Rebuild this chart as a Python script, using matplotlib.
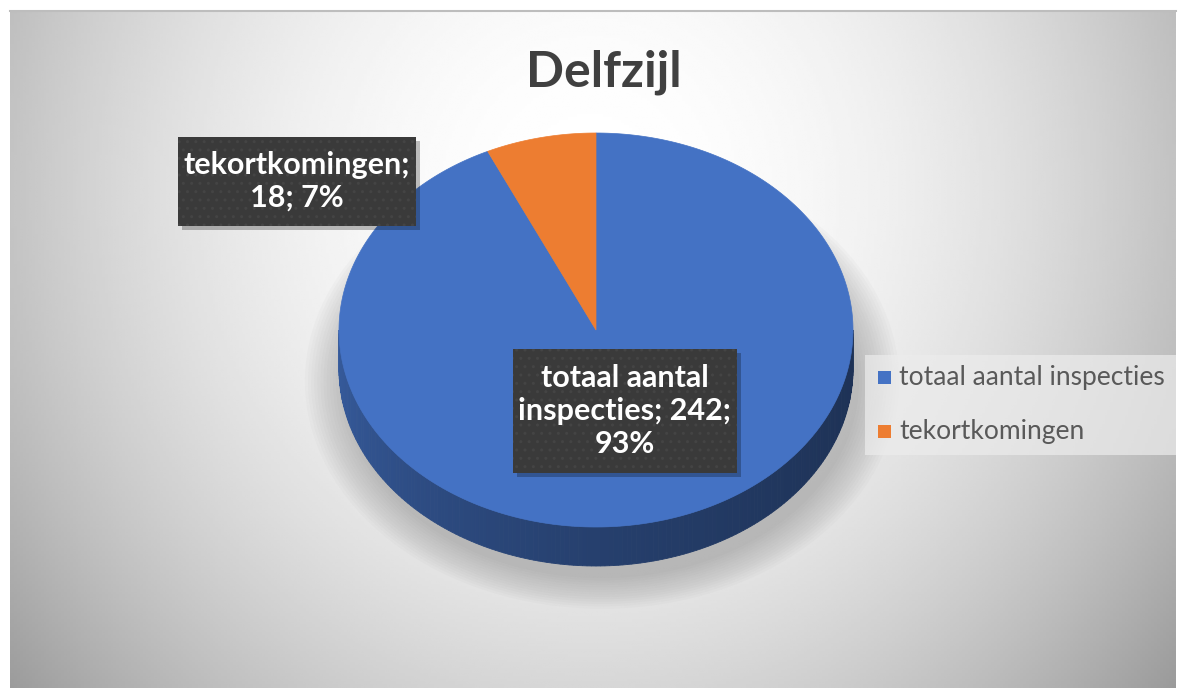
import numpy as np
import matplotlib
matplotlib.use("Agg")
import matplotlib.pyplot as plt
from matplotlib.patches import Polygon, Rectangle, Ellipse
import matplotlib.colors as mcolors

# ---- data ----
title = "Delfzijl"
categories = ["totaal aantal inspecties", "tekortkomingen"]
values = [242, 18]
colors = ["#4472C4", "#ED7D31"]

W, H = 1181, 691
fig = plt.figure(figsize=(W / 100, H / 100), dpi=100)
ax = fig.add_axes([0, 0, 1, 1])
ax.set_xlim(0, W)
ax.set_ylim(H, 0)
ax.axis("off")
fig.patch.set_facecolor("white")

# ---- background panel with soft radial gradient ----
px0, px1, py0, py1 = 10, 1176, 10, 688
xs = np.linspace(px0, px1, 400)
ys = np.linspace(py0, py1, 250)
X, Y = np.meshgrid(xs, ys)
v = 1 - 0.24 * ((X - 590) / 590) ** 2 - 0.16 * ((Y - 190) / 500) ** 2
v = np.clip(v, 0, 1)
ax.imshow(v, extent=(px0, px1, py1, py0), cmap="gray", vmin=0, vmax=1,
          zorder=0, interpolation="bilinear", aspect="auto")
ax.plot([px0, px1], [py0 + 0.5, py0 + 0.5], color="#bdbdbd", lw=1.5, zorder=1)

# ---- pie geometry ----
cx, cy, a, b, depth = 596, 330, 257, 197, 39

def pt(phi_deg, dy=0.0, scale=1.0):
    p = np.radians(phi_deg)
    return cx + scale * a * np.cos(p), cy + dy - scale * b * np.sin(p)

# shadow
for i in range(14):
    s = 1.0 + 0.012 * i
    e = Ellipse((cx + 6, cy + depth + 12), 2 * a * s, 2 * b * s,
                facecolor="#7a7a7a", edgecolor="none", alpha=0.035, zorder=2)
    ax.add_patch(e)

# slice angles (clockwise from top)
total = float(sum(values))
starts, ends = [], []
ang = 90.0
for val in values:
    span = 360.0 * val / total
    starts.append(ang - span)
    ends.append(ang)
    ang -= span

def shade(col, phi):
    rgb = np.array(mcolors.to_rgb(col))
    t = (np.cos(np.radians(phi)) + 1) / 2  # 0 at left, 1 at right
    f = 0.80 - 0.36 * t
    s = np.sin(np.radians(phi))
    f -= 0.12 * max(0.0, -s) * (1 - t)
    return np.clip(rgb * f, 0, 1)

# side walls (front half visible)
for col, s0, s1 in zip(colors, starts, ends):
    for k in range(-1, 2):
        lo, hi = s0 + 360 * k, s1 + 360 * k
        lo2, hi2 = max(lo, 180), min(hi, 360)
        if hi2 <= lo2:
            continue
        phis = np.linspace(lo2, hi2, max(2, int(hi2 - lo2) + 1))
        for p0, p1 in zip(phis[:-1], phis[1:]):
            x0, y0 = pt(p0)
            x1, y1 = pt(p1)
            c = shade(col, (p0 + p1) / 2)
            poly = Polygon([(x0, y0), (x1, y1), (x1, y1 + depth), (x0, y0 + depth)],
                           closed=True, facecolor=c, edgecolor=c, lw=0.6, zorder=3)
            ax.add_patch(poly)

# top faces
for col, s0, s1 in zip(colors, starts, ends):
    phis = np.linspace(s0, s1, 400)
    pts = [(cx, cy)] + [pt(p) for p in phis]
    ax.add_patch(Polygon(pts, closed=True, facecolor=col, edgecolor=col,
                         lw=0.5, zorder=4))

# ---- data labels ----
plt.rcParams["hatch.linewidth"] = 1.0
label_font = ["Lato", "DejaVu Sans"]

def label_box(x0, y0, w, h, text, fs):
    ax.add_patch(Rectangle((x0 + 4, y0 + 4), w, h, facecolor="#000000",
                           alpha=0.25, edgecolor="none", zorder=5))
    ax.add_patch(Rectangle((x0, y0), w, h, facecolor="#3a3a3a",
                           edgecolor="none", zorder=6))
    ax.add_patch(Rectangle((x0, y0), w, h, facecolor="none", hatch="..",
                           edgecolor="#444444", lw=0, zorder=6))
    ax.text(x0 + w / 2, y0 + h / 2, text, ha="center", va="center",
            color="white", fontsize=fs, fontweight="bold", family=label_font,
            linespacing=1.22, zorder=7)

pcts = [round(100 * v_ / total) for v_ in values]
lab0 = "totaal aantal\ninspecties; {};\n{}%".format(values[0], pcts[0])
lab1 = "{};\n{}; {}%".format(categories[1], values[1], pcts[1])
label_box(513, 349, 224, 124, lab0, 22)
label_box(178, 137, 238, 89, lab1, 22)

# ---- title ----
ax.text(604, 72, title, ha="center", va="center", fontsize=36,
        fontweight="bold", color="#404040", family=label_font, zorder=7)

# ---- legend ----
ax.add_patch(Rectangle((865, 355), 311, 100, facecolor="#ececec",
                       edgecolor="none", alpha=0.7, zorder=2))
leg_y = [377, 431]
for col, name, yy in zip(colors, categories, leg_y):
    ax.add_patch(Rectangle((878, yy - 6.5), 13, 13, facecolor=col,
                           edgecolor="none", zorder=7))
    ax.text(899, yy, name, ha="left", va="center", fontsize=19,
            color="#595959", family=label_font, zorder=7)

fig.savefig("out.png", dpi=100)
